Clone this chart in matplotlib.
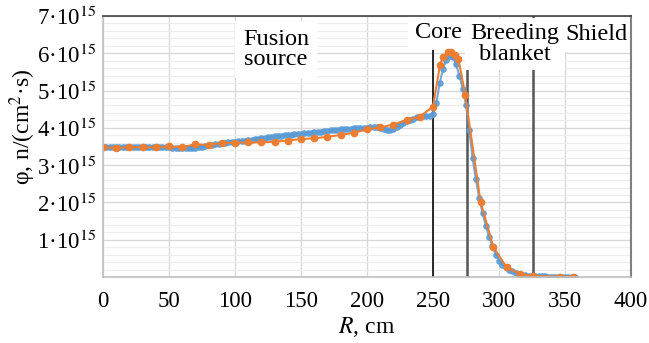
import numpy as np
import matplotlib
matplotlib.use("Agg")
import matplotlib.pyplot as plt
from matplotlib.ticker import MultipleLocator, FixedLocator

plt.rcParams['font.family'] = 'serif'
plt.rcParams['font.serif'] = ['Liberation Serif', 'STIXGeneral', 'DejaVu Serif']
plt.rcParams['mathtext.fontset'] = 'stix'
SERIF = 'Liberation Serif'

# ---- data (flux in units of 1e15 n/(cm^2 s)) ----
orange_R = [0, 10, 20, 30, 40, 50, 60, 70, 80, 90, 100, 110, 120, 130, 140, 150,
            160, 170, 180, 190, 200, 210, 220, 230, 240, 250, 255.3, 257.8, 261.6,
            263.6, 266.7, 269.2, 274.4, 286, 295.7, 305.8, 316, 326, 346, 356]
orange_phi = [3.48, 3.47, 3.48, 3.48, 3.48, 3.50, 3.48, 3.56, 3.54, 3.60, 3.60, 3.61,
              3.61, 3.63, 3.66, 3.70, 3.72, 3.76, 3.81, 3.87, 3.96, 4.01, 4.09, 4.21,
              4.30, 4.57, 5.69, 5.91, 6.04, 6.04, 5.95, 5.86, 4.88, 2.02, 0.80, 0.26,
              0.08, 0.03, 0.01, 0.01]

blue_R = list(np.arange(0, 360, 2.5))
blue_phi = [3.49, 3.49, 3.49, 3.49, 3.49, 3.49, 3.49, 3.49, 3.49, 3.49,   # 0-22.5
            3.49, 3.49, 3.49, 3.49, 3.49, 3.49, 3.49, 3.49, 3.49, 3.48,   # 25-47.5
            3.48, 3.47, 3.47, 3.46, 3.46, 3.46, 3.46, 3.46, 3.47, 3.48,   # 50-72.5
            3.49, 3.51, 3.53, 3.55, 3.57, 3.58, 3.59, 3.60, 3.61, 3.62,   # 75-97.5
            3.63, 3.64, 3.65, 3.66, 3.67, 3.68, 3.69, 3.70, 3.72, 3.73,   # 100-122.5
            3.75, 3.76, 3.77, 3.78, 3.79, 3.80, 3.81, 3.82, 3.83, 3.84,   # 125-147.5
            3.84, 3.85, 3.86, 3.87, 3.88, 3.89, 3.90, 3.91, 3.92, 3.93,   # 150-172.5
            3.94, 3.95, 3.96, 3.97, 3.98, 3.98, 3.99, 3.99, 4.00, 4.00,   # 175-197.5
            4.00, 4.01, 4.01, 4.01, 4.00, 3.97, 3.95, 3.94, 3.96, 4.02,   # 200-222.5
            4.08, 4.13, 4.18, 4.22, 4.25, 4.28, 4.30, 4.31, 4.32, 4.33,   # 225-247.5
            4.36, 4.66, 5.19, 5.57, 5.82, 5.93, 5.90, 5.70, 5.40, 5.05,   # 250-272.5
            4.61, 3.94, 3.18, 2.62, 2.12, 1.72, 1.38, 1.08, 0.82, 0.60,   # 275-297.5
            0.44, 0.33, 0.27, 0.20, 0.15, 0.11, 0.08, 0.06, 0.045, 0.035, # 300-322.5
            0.025, 0.02, 0.018, 0.016, 0.014, 0.012, 0.011, 0.010, 0.009, 0.008,  # 325-347.5
            0.007, 0.006, 0.005, 0.005]                                   # 350-357.5

boundaries = [250, 276, 326]
region_labels = ["Fusion\nsource", "Core", "Breeding\nblanket", "Shield"]
region_pos = [(131, 6.1e15), (254, 6.55e15), (312, 6.25e15), (374, 6.5e15)]
region_pads = [6.0, 5.0, 4.0, 5.0]

y_ticks = [1, 2, 3, 4, 5, 6, 7]
x_ticks = [0, 50, 100, 150, 200, 250, 300, 350, 400]

# ---- figure ----
fig = plt.figure(figsize=(6.49, 3.43), dpi=100)
ax = fig.add_axes([103/649, 1-277/343, (631-103)/649, (277-16)/343])

ax.set_xlim(0, 400)
ax.set_ylim(0, 7e15)

ax.yaxis.set_major_locator(FixedLocator([v*1e15 for v in [0] + y_ticks]))
ax.yaxis.set_minor_locator(MultipleLocator(0.2e15))
ax.set_yticklabels([""] + [f"{v}·10$^{{15}}$" for v in y_ticks], family=SERIF)
ax.xaxis.set_major_locator(FixedLocator(x_ticks))
ax.set_xticklabels([str(v) for v in x_ticks], family=SERIF)

ax.grid(which='major', axis='both', color='#d9d9d9', lw=1.0, zorder=0)
ax.grid(which='minor', axis='y', color='#ededed', lw=0.9, zorder=0)
ax.set_axisbelow(True)
ax.tick_params(which='both', length=0, labelsize=16.5, pad=5)
ax.tick_params(axis='x', pad=10)

for s in ['left', 'bottom']:
    ax.spines[s].set_color('#bfbfbf')
    ax.spines[s].set_linewidth(1.2)
ax.spines['top'].set_color('#404040')
ax.spines['top'].set_linewidth(1.2)
ax.spines['right'].set_color('#808080')
ax.spines['right'].set_linewidth(1.5)
for s in ax.spines.values():
    s.set_zorder(8)

ax.axvline(boundaries[0], color='#1a1a1a', lw=1.3, zorder=2)
for b in boundaries[1:]:
    ax.axvline(b, color='#555555', lw=1.8, zorder=2)

ax.plot(blue_R, np.array(blue_phi)*1e15, color='#5B9BD5', lw=1.5, marker='o',
        ms=3.8, alpha=0.85, zorder=7)
ax.plot(orange_R, np.array(orange_phi)*1e15, color='#ED7D31', lw=1.5, marker='o',
        ms=4.5, zorder=7.5)

for lab, (x, y), p in zip(region_labels, region_pos, region_pads):
    ax.text(x, y, lab, ha='center', va='center', fontsize=17.5, linespacing=0.95,
            family=SERIF, zorder=6,
            bbox=dict(facecolor='white', edgecolor='none', pad=p))

ax.set_ylabel("φ, n/(cm$^2$·s)", fontsize=17, family=SERIF)
ax.yaxis.set_label_coords(-0.124, 0.575)
ax.set_xlabel("$R$, cm", fontsize=17, labelpad=2, family=SERIF)

fig.savefig("out.png", dpi=100)
